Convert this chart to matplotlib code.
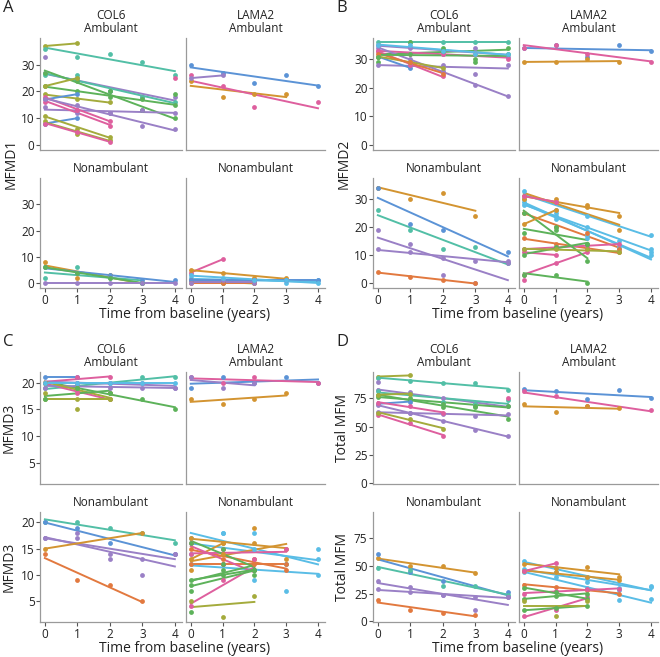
import matplotlib.pyplot as plt
import numpy as np

plt.rcParams['font.family'] = ['Open Sans', 'DejaVu Sans']

# colour per patient (muted ggplot hues)
cols = {'o': '#D39431', 'y': '#A4AB3C', 'g': '#5DB25A', 't': '#52BFA6',
        'l': '#5ABDE6', 'b': '#5B93D6', 'p': '#9A80C6', 'm': '#DE5F9E',
        'r': '#E2793F'}

# each patient: (colour, values at year 0,1,2,... ; None = missing visit)
# --- MFMD1
a_col6_amb = [('y', [37, 38]), ('t', [36, 33, 34, 31, 26]), ('p', [33]),
              ('p', [27, 25, 20, 18, 18]), ('t', [26, 26, 20, 18, 16]),
              ('g', [27, 24, 20, 13, 10]), ('g', [22, 20, 18, 17, 15]),
              ('y', [22, 25]), ('y', [19, 17, 16]), ('b', [17, 19]), ('b', [8, 10]),
              ('p', [14, 12, 12, 13, 12]), ('m', [18, 13, 9]), ('m', [16, 13, 7]),
              ('p', [17, 15, 12, 7, 6]), ('y', [11, 6, 3]), ('y', [9, 4, 2]),
              ('m', [8, 5, 1]), ('m', [None, None, None, None, 25]), ('g', [None, None, None, None, 19])]
a_lama2_amb = [('b', [30, 27, 23, 26, 22]), ('o', [24, 18, 19, 19]),
               ('m', [26, 22, 14, None, 16]), ('p', [25, 26])]
a_col6_non = [('o', [8, 2, 3, 0]), ('t', [2, 6, 2, 0]), ('b', [6, 4, 3, 1, 1]),
              ('g', [6, 4, 2, 0]), ('p', [0, 0, 0, 0, 0])]
a_lama2_non = [('m', [4, 9]), ('o', [5, 4, 2, 2]), ('l', [2, 1, 1, 0, 1]),
               ('g', [1, 0, 0]), ('m', [1, 1, 1, 1]), ('b', [1, 1, 1, 1, 1]),
               ('r', [0, 0, 0]), ('p', [0, 1, 0]), ('l', [3, 2, 1, 1, 0])]
# --- MFMD2
b_col6_amb = [('t', [36, 36, 36, 36, 36]), ('g', [29, 36, 34, 30, 34]),
              ('p', [35, 34, 32, 34, 31]), ('m', [33, 32, 32, 32, 30]),
              ('p', [34, 30, 26, 21, 17]), ('p', [28, 28, 28, 25, 28]),
              ('b', [31, 27]), ('m', [33, 28, 24]), ('y', [31, 29, 27]),
              ('r', [32, 29, 25]), ('g', [31, 32, 33, 29, 32]), ('l', [35, 35, 33, 32, 32])]
b_lama2_amb = [('b', [34, 35, 31, 35, 33]), ('m', [34, 35, 32, None, 29]),
               ('o', [29, 29, 30, 29])]
b_col6_non = [('o', [34, 30, 32, 24]), ('b', [34, 21, 19, None, 11]),
              ('t', [26, 19, 12, 13, 7]), ('p', [19, 14, 3, 0, 7]),
              ('p', [12, 11, 9, 8, 8]), ('r', [4, 2, 1, 0])]
b_lama2_non = [('l', [33, 26, 24, None, 17]), ('l', [29, 25, 17, 12, 10]),
               ('l', [30, 23, 16, 13, 11]), ('l', [28, 24, 20, 15, 12]),
               ('o', [30, 30, 28, 24]), ('o', [31, 29, 27, 19]),
               ('r', [25, 20, 18, 12]), ('r', [16, 14, 12, 11]),
               ('m', [31, 29]), ('m', [3, 7, 11]), ('m', [11, 10]), ('m', [12, 13, 13, 14]),
               ('g', [25, 19, 8]), ('g', [18, 20, 14]), ('g', [10, 13, 14]), ('g', [3, 3, 0]),
               ('o', [21, 26]), ('y', [12, 12, 12, 11]), ('m', [1])]
# --- MFMD3
c_col6_amb = [('t', [19, 19, 20, 21, 21]), ('g', [20, 19, 18, 17, 15]),
              ('b', [21, 21]), ('m', [20, 21, 21]), ('m', [20, 18, 17]),
              ('p', [19, 20, 19, 19, 19]), ('p', [20, 20, 20, 20, 19]),
              ('y', [17, 17, 17]), ('y', [18, 15, 18]), ('y', [20, 19, 17]),
              ('g', [17, 19, 18]), ('l', [20, 20, 20, 20, 20])]
c_lama2_amb = [('b', [19, 21, 20, 21, 20]), ('m', [21, 20, 21, None, 20]),
               ('p', [21, 19, 20]), ('o', [17, 16, 17, 18])]
c_col6_non = [('t', [20, 20, 19, 18, 16]), ('b', [20, 19, 16, None, 14]),
              ('p', [17, 17, 14, 13, 14]), ('p', [17, 18, 13, 10, 14]),
              ('o', [15, None, None, 18]), ('r', [14, 9, 8, 5])]
c_lama2_non = [('l', [17, 18, 18, 7, 15]), ('l', [14, 18, 15, 12, 13]),
               ('l', [12, 12, 9, 12, 10]), ('o', [17, 16, 16, 15]), ('o', [13, 16]),
               ('o', [11, 14, 19, 13]), ('r', [15, 13, 13, 11]), ('r', [12, 12, 12, 12]),
               ('m', [14, 15, 13, 15]), ('m', [4, 9, 11]), ('m', [16, 12, 11]),
               ('g', [9, 10, 11]), ('g', [8, 12, 11]), ('g', [7, 11, 10]), ('g', [16, 15, 11]),
               ('y', [5, 2, 6]), ('g', [3])]
# --- Total MFM
d_col6_amb = [('y', [94, 95]), ('t', [93, 90, 88, 88, 82]), ('p', [89]),
              ('p', [82, 80, 75, 70, 68]), ('t', [81, 79, 72, 70, 73]),
              ('g', [78, 73, 67, 67, 57]), ('g', [76, 75, 70, 68, 68]),
              ('y', [78, 79]), ('b', [70, 72]), ('p', [63, 62, 61, 59, 61]),
              ('p', [69, 62, 55, 47, 42]), ('m', [71, 68, 62]), ('m', [60, 53, 42]),
              ('y', [62, 57, 48]), ('m', [None, None, None, None, 75])]
d_lama2_amb = [('b', [83, 81, 74, 82, 75]), ('m', [81, 77, 68, None, 65]),
               ('o', [70, 63, 68, 66])]
d_col6_non = [('o', [57, 50, 50, 43]), ('b', [60, 44, 36, None, 26]),
              ('t', [48, 46, 32, 32, 24]), ('p', [36, 31, 24, 10, 22]),
              ('p', [29, 26, 24, 22, 22]), ('r', [19, 10, 8, 6])]
d_lama2_non = [('l', [54, 48, 40, 30, 31]), ('l', [47, 44, 35, 28, 32]),
               ('l', [44, 40, 30, 19, 20]), ('o', [51, 48, 49, 40]),
               ('o', [45, 44, 40, 37]), ('r', [33, 31, 28, 25]), ('m', [45, 52]),
               ('m', [5, 10, 22]), ('m', [25, 27, 29, 29]), ('g', [30, 26, 20]),
               ('g', [10, 12, 14]), ('g', [20, 23, 25]), ('y', [18, 5, 18])]

fig = plt.figure(figsize=(6.6, 6.57), dpi=100)


def px_ax(l, t, r, b):
    return fig.add_axes([l / 660, 1 - b / 657, (r - l) / 660, (b - t) / 657])


def facet(ax, patients, ylim, yticks, left, bottom):
    for c, vals in patients:
        t = np.array([i for i, v in enumerate(vals) if v is not None], float)
        v = np.array([v for v in vals if v is not None], float)
        ax.scatter(t, v, s=12, color=cols[c], zorder=3, linewidths=0)
        if len(t) > 1:
            k, b0 = np.polyfit(t, v, 1)
            ax.plot([t.min(), t.max()], [b0 + k * t.min(), b0 + k * t.max()],
                    color=cols[c], lw=1.4, zorder=2)
    ax.set_xlim(-0.15, 4.22)
    ax.set_ylim(*ylim)
    for s in ['top', 'right']:
        ax.spines[s].set_visible(False)
    for s in ['left', 'bottom']:
        ax.spines[s].set_color('#9a9a9a')
        ax.spines[s].set_linewidth(0.9)
    ax.tick_params(colors='#555555', labelcolor='#222222', labelsize=8.5, length=3, width=0.8, pad=1)
    ax.set_yticks(yticks)
    ax.set_xticks([0, 1, 2, 3, 4])
    if not left:
        ax.tick_params(axis='y', left=False, labelleft=False)
    if not bottom:
        ax.tick_params(axis='x', bottom=False, labelbottom=False)


panels = [
    ('A', 'MFMD1', [a_col6_amb, a_lama2_amb, a_col6_non, a_lama2_non], (-1.9, 40), [0, 10, 20, 30], 0, 0, False),
    ('B', 'MFMD2', [b_col6_amb, b_lama2_amb, b_col6_non, b_lama2_non], (-1.8, 37.5), [0, 10, 20, 30], 333, 0, False),
    ('C', 'MFMD3', [c_col6_amb, c_lama2_amb, c_col6_non, c_lama2_non], (1.0, 22), [5, 10, 15, 20], 0, 334, True),
    ('D', 'Total MFM', [d_col6_amb, d_lama2_amb, d_col6_non, d_lama2_non], (-0.5, 98), [0, 25, 50, 75], 333, 334, True),
]

for letter, ylab, data, ylim, yt, dx, dy, per_row in panels:
    cols_x = [(40 + dx, 182 + dx), (186 + dx, 325 + dx)]
    rows_y = [(38 + dy, 150 + dy), (178 + dy, 288 + dy)]
    strips = [['COL6\nAmbulant', 'LAMA2\nAmbulant'], ['Nonambulant', 'Nonambulant']]
    for r in range(2):
        for c in range(2):
            ax = px_ax(cols_x[c][0], rows_y[r][0], cols_x[c][1], rows_y[r][1])
            facet(ax, data[r * 2 + c], ylim, yt, c == 0, r == 1)
            ax.set_title(strips[r][c], fontsize=8.5, color='#222222', pad=4, linespacing=1.05)
            if r == 1 and c == 0:
                ax.set_xlabel('Time from baseline (years)', fontsize=10, color='#222222',
                              labelpad=0, x=1.02)
            if per_row and c == 0:
                ax.set_ylabel(ylab, fontsize=10, color='#222222', labelpad=3)
    if not per_row:
        fig.text((11 + dx) / 660, 1 - (164 + dy) / 657, ylab, rotation=90,
                 fontsize=10, color='#222222', ha='center', va='center')
    fig.text((3 + dx) / 660, 1 - (8 + dy) / 657, letter, fontsize=12,
             color='#222222', ha='left', va='center')

fig.savefig('out.png', dpi=100)
